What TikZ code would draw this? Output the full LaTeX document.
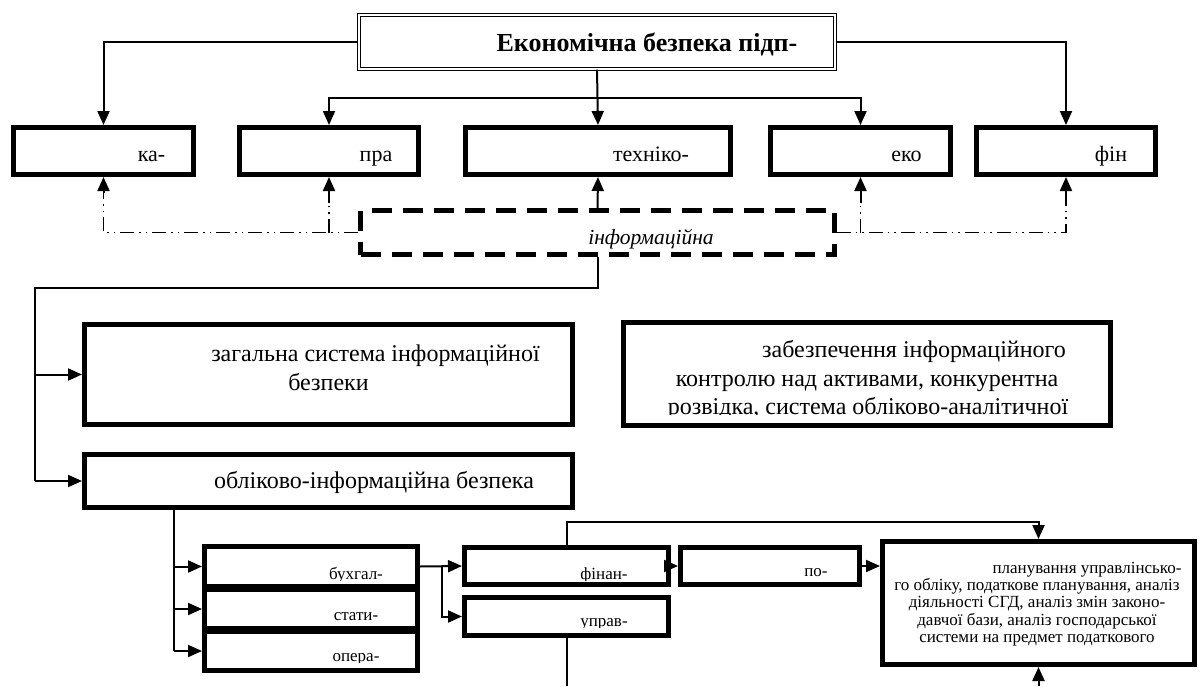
\documentclass[tikz,border=0pt]{standalone}
\usepackage{fontspec}
\setmainfont{Liberation Serif}
\usetikzlibrary{arrows.meta,calc}
\begin{document}
\begin{tikzpicture}[x=1pt,y=-1pt,
  bx/.style={draw, line width=5pt, rectangle, inner sep=0pt},
  con/.style={line width=2pt},
  arr/.style={con, -{Triangle[length=14pt,width=12pt]}},
  dd/.style={line width=1.5pt, dash pattern=on 14pt off 5pt on 1.5pt off 5pt on 1.5pt off 5pt},
  big/.style={font=\fontsize{24}{29}\selectfont, inner sep=0pt},
  rowt/.style={font=\fontsize{22}{26}\selectfont, inner sep=0pt, anchor=base},
  small/.style={font=\fontsize{17}{20}\selectfont, inner sep=0pt, anchor=base},
]
\useasboundingbox (0,0) rectangle (1203,686);
% top box
\node[draw, double, line width=1.4pt, double distance=2pt, minimum width=476pt, minimum height=54pt, inner sep=0pt] (top) at (597,42) {};
\node[font=\bfseries\fontsize{26}{30}\selectfont, inner sep=0pt, anchor=base] (ttop) at (647,51) {Економічна безпека підп-};
% row boxes
\node[bx, minimum width=180pt, minimum height=47pt] (ka) at (103.5,151) {};
\node[bx, minimum width=179pt, minimum height=47pt] (pra) at (329,151) {};
\node[bx, minimum width=265pt, minimum height=47pt] (tex) at (598,151) {};
\node[bx, minimum width=180pt, minimum height=47pt] (eko) at (860.5,151) {};
\node[bx, minimum width=179pt, minimum height=47pt] (fin) at (1066,151) {};
\node[rowt] (tka) at ($(ka)+(48,10)$) {ка-};
\node[rowt] (tpra) at ($(pra)+(47,10)$) {пра};
\node[rowt] (ttex) at ($(tex)+(53,10)$) {техніко-};
\node[rowt] (teko) at ($(eko)+(46,10)$) {еко};
\node[rowt] (tfin) at ($(fin)+(45,10)$) {фін};
% info dashed box
\node[draw, line width=4.5pt, dash pattern=on 20pt off 11pt, minimum width=474pt, minimum height=44pt, inner sep=0pt] (info) at (597.5,232.5) {};
\node[font=\itshape\fontsize{21.5}{25}\selectfont, inner sep=0pt, anchor=base] (tinfo) at (651,244) {інформаційна};
% top connectors
\draw[arr] (top.west) -| (ka.north);
\draw[arr] (top.east) -| (fin.north);
\draw[arr] (top.south) -- (tex.north);
\coordinate (br) at (598,98);
\draw[arr] (br) -| (pra.north);
\draw[arr] (br) -| (eko.north);
\draw[arr] (info.north) -- (tex.south);
% dash-dot feedback
\draw[dd] (info.west) -| ($(ka.south)+(0,16)$);
\draw[arr] ($(ka.south)+(0,16)$) -- (ka.south);
\draw[dd] (pra.south |- info.west) -- ($(pra.south)+(0,26)$);
\draw[arr] ($(pra.south)+(0,26)$) -- (pra.south);
\draw[dd] (info.east) -| ($(fin.south)+(0,26)$);
\draw[arr] ($(fin.south)+(0,26)$) -- (fin.south);
\draw[dd] (eko.south |- info.east) -- ($(eko.south)+(0,26)$);
\draw[arr] ($(eko.south)+(0,26)$) -- (eko.south);
% middle boxes
\node[bx, minimum width=488pt, minimum height=100pt] (zag) at (328.5,374.5) {};
\node[big, align=center] (tzag) at (328.5,368) {\hspace*{94pt}загальна система інформаційної\\безпеки};
\node[bx, minimum width=487pt, minimum height=103pt] (zab) at (867,374) {};
\begin{scope}
\clip (623,322) rectangle (1111,414);
\node[big, anchor=base] (tzab1) at (914,357) {забезпечення інформаційного};
\node[big, anchor=base] (tzab2) at (867,386) {контролю над активами, конкурентна};
\node[big, anchor=base] (tzab3) at (868,414) {розвідка, система обліково-аналітичної};
\end{scope}
\node[bx, minimum width=488pt, minimum height=53pt] (obl) at (328.5,481) {};
\node[big, anchor=base] (tobl) at (374,488) {обліково-інформаційна безпека};
\coordinate (c1) at (35,288);
\coordinate (c2) at (35,481);
\draw[con] (info.south) |- (c1) -- (c2);
\draw[arr] (c1 |- zag.west) -- (zag.west);
\draw[arr] (c2) -- (obl.west);
% lower boxes
\node[bx, minimum width=213pt, minimum height=40pt] (buh) at (311,566.5) {};
\node[bx, minimum width=213pt, minimum height=39pt] (sta) at (311,609) {};
\node[bx, minimum width=213pt, minimum height=39pt] (ope) at (311,651) {};
\node[bx, minimum width=204pt, minimum height=37pt] (fnn) at (566.5,566) {};
\node[bx, minimum width=204pt, minimum height=38pt] (upr) at (566.5,616.5) {};
\node[bx, minimum width=179pt, minimum height=37pt] (po) at (770,566) {};
\node[bx, minimum width=312pt, minimum height=123pt] (bigb) at (1038.5,603) {};
\begin{scope}
\clip (204,547) rectangle (418,580);
\node[small] (tbuh) at (356,579) {бухгал-};
\end{scope}
\begin{scope}
\clip (204,590) rectangle (418,621);
\node[small] (tsta) at (356,620) {стати-};
\end{scope}
\begin{scope}
\clip (204,632) rectangle (418,662);
\node[small] (tope) at (356,661) {опера-};
\end{scope}
\begin{scope}
\clip (464,547) rectangle (669,580);
\node[small] (tfnn) at (604,579) {фінан-};
\end{scope}
\begin{scope}
\clip (464,597) rectangle (669,627);
\node[small] (tupr) at (604,626) {управ-};
\end{scope}
\begin{scope}
\clip (680,547) rectangle (860,577);
\node[small] (tpo) at (816,576) {по-};
\end{scope}
\node[inner sep=0pt, align=center, font=\fontsize{17}{17.3}\selectfont] (tbig) at (1037,604) {\hspace*{100pt}планування управлінсько-\\го обліку, податкове планування, аналіз\\діяльності СГД, аналіз змін законо-\\давчої бази, аналіз господарської\\системи на предмет податкового};
% lower connectors
\coordinate (c3) at (174,651);
\draw[con] (obl.south -| c3) -- (c3);
\draw[arr] (c3 |- buh.west) -- (buh.west);
\draw[arr] (c3 |- sta.west) -- (sta.west);
\draw[arr] (c3) -- (ope.west);
\draw[arr] (buh.east) -- (fnn.west);
\coordinate (c4) at (442,566.5);
\draw[arr] (c4) |- (upr.west);
\draw[arr] (fnn.east) -- (po.west);
\draw[arr] (po.east) -- (po.east -| bigb.west);
\coordinate (c5) at (1038.5,522);
\draw[arr] (fnn.north) |- (c5) -- (bigb.north);
\coordinate (c6) at (566.5,686);
\draw[con] (upr.south) -- (c6);
\coordinate (c7) at (1038.5,686);
\draw[arr] (c7) -- (bigb.south);
\end{tikzpicture}
\end{document}
